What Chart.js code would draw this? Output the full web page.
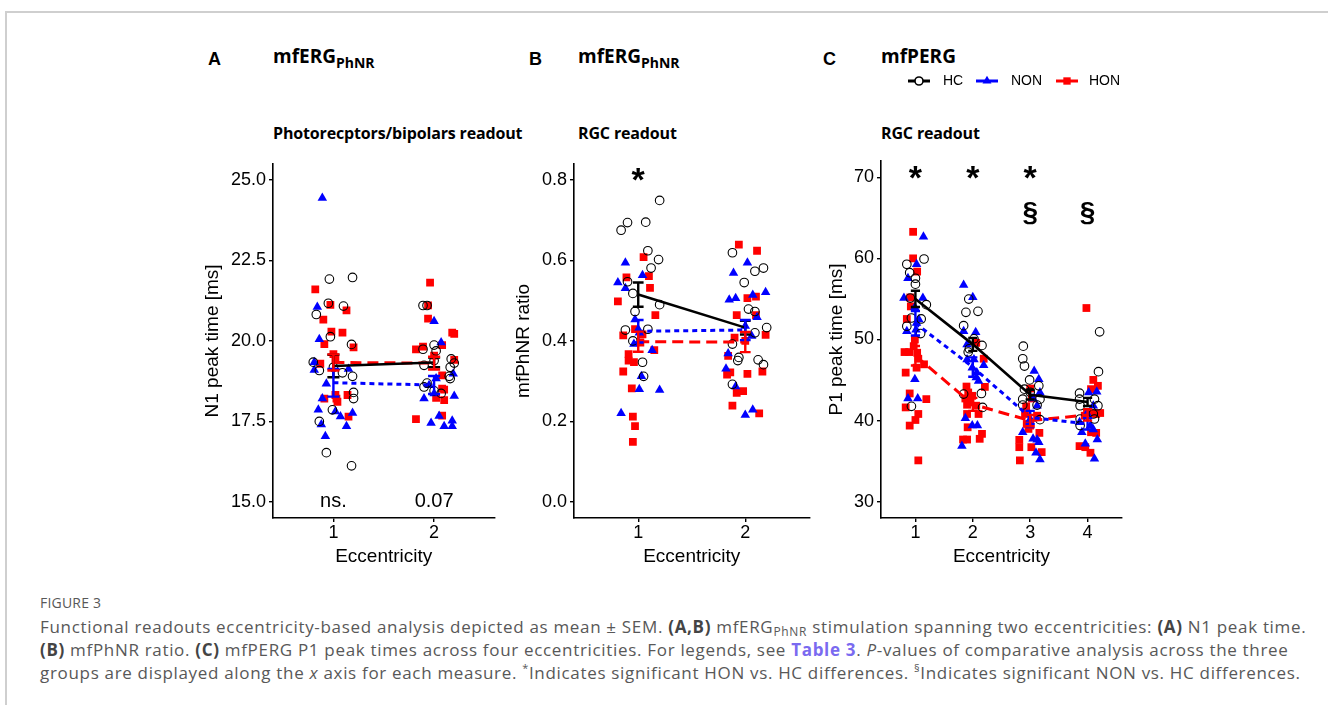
<!DOCTYPE html>
<html><head><meta charset="utf-8">
<script src="https://cdn.jsdelivr.net/npm/chart.js@4.4.1/dist/chart.umd.min.js"></script>
<style>
html,body{margin:0;padding:0;background:#fff;}
body{width:1328px;height:705px;overflow:hidden;position:relative;}
.frame{position:absolute;left:5px;top:11px;width:1400px;height:800px;border-top:2px solid #cfcfcf;border-left:2px solid #cfcfcf;}
.t{position:absolute;white-space:nowrap;line-height:1;color:#000;}
.lab{font-family:"Liberation Sans",Arial,sans-serif;font-weight:bold;font-size:18px;}
.ttl{font-family:"Open Sans",sans-serif;font-weight:700;font-size:19px;}
.ttl .sb{font-size:14px;position:relative;top:5px;}
.sub{font-family:"Open Sans",sans-serif;font-weight:700;font-size:16px;letter-spacing:-0.15px;}
canvas{position:absolute;}
.cap{position:absolute;left:40px;white-space:nowrap;font-family:"Open Sans",sans-serif;color:#585858;}
.cap b{color:#444;}
.cap .lk{color:#7a6af0;font-weight:700;}
.cap .sb{font-size:12px;position:relative;top:3px;}
.cap sup{font-size:11px;vertical-align:baseline;position:relative;top:-7px;}
.ln{font-size:17px;letter-spacing:0.68px;}
</style></head><body>
<div class="frame"></div>

<div class="t lab" style="left:208px;top:50px;">A</div>
<div class="t ttl" style="left:273px;top:47px;">mfERG<span class="sb">PhNR</span></div>
<div class="t sub" style="left:273px;top:125px;">Photorecptors/bipolars readout</div>

<div class="t lab" style="left:529px;top:50px;">B</div>
<div class="t ttl" style="left:578px;top:47px;">mfERG<span class="sb">PhNR</span></div>
<div class="t sub" style="left:578px;top:125px;">RGC readout</div>

<div class="t lab" style="left:823px;top:50px;">C</div>
<div class="t ttl" style="left:881px;top:47px;">mfPERG</div>
<div class="t sub" style="left:881px;top:125px;">RGC readout</div>

<canvas id="cA" width="310" height="430" style="left:190px;top:150px;width:310px;height:430px;"></canvas>
<canvas id="cB" width="315" height="430" style="left:500px;top:150px;width:315px;height:430px;"></canvas>
<canvas id="cC" width="320" height="520" style="left:810px;top:60px;width:320px;height:520px;"></canvas>

<div class="cap" style="top:593px;font-size:14px;letter-spacing:0.2px;">FIGURE 3</div>
<div class="cap ln" style="top:615px;">Functional readouts eccentricity-based analysis depicted as mean ± SEM. <b>(A,B)</b> mfERG<span class="sb">PhNR</span> stimulation spanning two eccentricities: <b>(A)</b> N1 peak time.</div>
<div class="cap ln" style="top:638px;"><b>(B)</b> mfPhNR ratio. <b>(C)</b> mfPERG P1 peak times across four eccentricities. For legends, see <span class="lk">Table 3</span>. <i>P</i>-values of comparative analysis across the three</div>
<div class="cap ln" style="top:661px;">groups are displayed along the <i>x</i> axis for each measure. <sup>*</sup>Indicates significant HON vs. HC differences. <sup>§</sup>Indicates significant NON vs. HC differences.</div>

<script>
// ================= DATA =================
const groups = ['HC', 'NON', 'HON'];
const eccA = [1, 2];
const eccB = [1, 2];
const eccC = [1, 2, 3, 4];
const yTicksA = [15.0, 17.5, 20.0, 22.5, 25.0];
const yTicksB = [0.0, 0.2, 0.4, 0.6, 0.8];
const yTicksC = [30, 40, 50, 60, 70];

// Panel A – N1 peak time [ms]: jittered eccentricity positions and values
const A_HC_x = [0.83,0.96,0.95,0.97,0.80,0.86,1.00,1.09,1.10,1.19,1.18,1.19,1.20,1.20,0.99,0.86,0.93,1.18, 1.89,1.93,1.89,2.00,2.02,2.00,1.90,1.93,1.90,2.07,2.15,2.16,2.17,2.20,2.16,2.00];
const A_HC_y = [20.82,21.92,21.17,20.13,19.34,19.08,19.18,19.01,21.08,21.97,19.89,18.90,18.40,18.21,17.86,17.50,16.53,16.12, 21.10,21.10,19.74,19.87,19.69,19.39,19.24,18.69,18.57,18.37,18.90,18.83,19.44,19.31,19.18,18.45];
const A_NON_x = [0.89,0.84,0.86,0.81,0.81,0.89,0.85,0.88,0.92,1.02,1.07,1.13,1.19,1.15,0.93, 2.00,2.07,2.02,1.90,1.95,2.00,1.97,2.05,2.10,2.18,2.18,2.20,2.19];
const A_NON_y = [24.44,21.05,20.05,19.34,19.10,18.21,17.86,17.40,17.04,17.81,17.65,17.35,17.76,19.13,18.67, 20.61,19.95,18.83,18.21,18.62,18.37,17.45,17.67,17.35,17.35,17.52,18.29,18.98];
const A_HON_x = [0.82,0.97,0.90,0.98,1.09,1.13,0.91,1.20,0.87,1.02,1.00,1.02,1.03,1.04,0.91,1.14,1.15, 1.96,1.94,1.94,1.82,1.89,2.08,2.18,2.20,2.20,2.00,2.08,2.08,2.10,2.02,2.10,2.08,1.82];
const A_HON_y = [21.60,21.12,20.66,20.29,20.26,20.95,19.90,19.80,19.29,19.41,19.59,18.32,18.21,18.11,18.21,18.32,17.65, 21.81,21.10,20.69,19.74,19.82,19.87,20.26,20.22,19.41,19.54,18.93,18.52,18.49,18.23,18.16,17.68,17.57];
const A_mean_HC = [19.22, 19.33];  const A_sem_HC = [0.35, 0.15];
const A_mean_NON = [18.70, 18.63]; const A_sem_NON = [0.43, 0.28];
const A_mean_HON = [19.33, 19.31]; const A_sem_HON = [0.25, 0.20];
const A_pLabels = ['ns.', '0.07'];

// Panel B – mfPhNR ratio
const B_HC_x = [0.84,0.90,1.07,1.20,1.09,1.19,1.12,0.90,0.95,0.97,1.20,0.88,1.09,0.95,1.04,1.05, 1.88,1.99,2.09,2.17,2.03,2.09,2.20,2.09,1.88,1.94,1.93,2.12,2.17,1.88];
const B_HC_y = [0.675,0.694,0.695,0.749,0.624,0.602,0.581,0.547,0.518,0.473,0.490,0.427,0.429,0.400,0.347,0.312, 0.619,0.545,0.573,0.581,0.479,0.473,0.433,0.420,0.392,0.359,0.351,0.353,0.341,0.292];
const B_NON_x = [0.88,0.81,0.88,1.04,0.97,1.00,1.01,0.96,1.13,1.03,1.01,1.20,0.84, 2.02,1.89,1.85,1.91,2.19,2.07,2.11,2.00,2.06,1.84,1.82,1.91,2.00,2.07];
const B_NON_y = [0.594,0.545,0.531,0.563,0.453,0.429,0.420,0.392,0.377,0.312,0.280,0.278,0.220, 0.594,0.569,0.502,0.506,0.521,0.514,0.459,0.437,0.412,0.369,0.331,0.287,0.216,0.229];
const B_HON_x = [0.81,0.89,1.05,1.10,1.11,1.16,0.86,0.97,1.04,1.02,0.91,0.91,0.96,0.86,0.94,0.95,0.97,0.95,1.15, 1.94,2.11,2.02,2.10,2.10,1.92,2.19,1.90,2.00,1.84,1.86,1.83,2.02,2.16,1.98,1.92,1.88,2.13];
const B_HON_y = [0.498,0.558,0.608,0.561,0.532,0.464,0.414,0.429,0.416,0.396,0.367,0.351,0.347,0.324,0.282,0.212,0.188,0.149,0.377, 0.639,0.624,0.506,0.510,0.464,0.464,0.415,0.408,0.400,0.363,0.322,0.316,0.318,0.324,0.275,0.271,0.239,0.220];
const B_mean_HC = [0.515, 0.433];  const B_sem_HC = [0.030, 0.017];
const B_mean_NON = [0.424, 0.427]; const B_sem_NON = [0.028, 0.025];
const B_mean_HON = [0.398, 0.397]; const B_sem_HON = [0.025, 0.025];
const B_sigHON = ['*', ''];

// Panel C – P1 peak time [ms]
const C_HC_x = [0.85,0.90,1.15,1.00,1.00,0.91,0.85,0.93,1.10,1.09,1.19,0.93, 1.93,1.88,2.09,1.84,2.02,1.92,1.94,2.16,2.15,2.17,1.84, 2.88,2.87,2.90,2.99,3.15,2.90,2.87,3.17,3.00,2.87,3.12,3.17, 3.86,3.86,4.12,4.18,4.19,4.21,3.87,3.87,4.10,4.12,3.87];
const C_HC_y = [59.27,58.24,59.92,57.55,56.82,55.10,51.63,52.65,52.53,50.73,54.29,41.76, 54.98,53.35,53.47,51.71,50.08,48.45,48.86,49.27,43.35,41.63,43.27, 49.18,47.63,46.73,45.02,44.29,43.88,42.65,42.65,43.50,41.92,41.92,40.12, 43.39,42.65,42.65,41.84,46.04,50.94,41.84,40.20,40.82,40.20,39.39];
const C_NON_x = [1.14,1.02,0.87,0.80,1.13,0.85,1.02,1.06,0.99,0.99,0.87,1.04,1.01, 1.84,2.00,1.84,2.05,1.90,1.90,2.02,1.99,2.06,2.07,2.19,2.10,1.87,1.99,2.08,1.81, 3.07,3.15,3.17,3.12,3.05,2.87,3.05,3.12,3.00,3.10,3.17,3.15,3.00, 4.02,4.16,4.10,3.99,3.86,4.05,4.10,4.17,3.96,4.12,3.90];
const C_NON_y = [62.65,59.27,57.55,55.10,55.10,51.02,52.04,52.45,53.96,45.10,42.73,42.73,51.20, 56.73,55.22,51.02,50.90,49.39,47.55,47.55,46.53,45.31,45.92,46.82,44.90,40.29,39.39,39.39,36.86, 46.12,45.10,43.47,41.84,42.73,38.57,37.76,37.63,39.39,36.04,35.22,37.35,40.20, 43.47,43.55,41.84,40.90,39.80,39.39,38.90,37.67,37.14,35.31,38.57];
const C_HON_x = [0.96,0.96,1.03,0.91,0.92,0.85,0.99,0.97,0.81,0.89,1.03,1.05,1.15,1.02,0.83,0.90,1.19,0.83,1.05,1.00,0.90,1.05, 1.89,1.92,1.99,1.87,1.96,1.90,2.06,2.21,2.19,2.06,1.90,1.91,2.10,2.16,1.83,1.90,2.12, 3.00,3.03,2.93,2.91,2.94,3.00,2.97,3.12,2.81,2.81,3.02,3.16,3.20,2.82, 3.98,4.10,4.18,4.06,3.99,4.08,4.15,3.95,4.22,4.06,4.15,3.86,3.96,4.05];
const C_HON_y = [63.27,60.00,58.37,55.18,54.08,52.53,50.00,49.18,48.45,48.45,48.37,47.63,46.94,46.53,45.92,43.35,42.65,41.63,40.82,40.08,39.39,35.10, 44.20,43.47,43.06,42.73,42.24,41.96,41.84,44.16,47.63,49.59,40.82,39.18,40.82,38.37,37.67,37.67,37.76, 43.96,42.73,41.76,40.82,39.59,39.39,38.98,40.61,37.63,36.73,36.73,38.49,36.12,35.10, 53.88,45.02,44.29,43.88,41.02,40.94,40.82,40.61,40.94,38.57,38.49,36.86,36.73,36.04];
const C_mean_HC = [55.0, 49.4, 43.2, 42.3];  const C_sem_HC = [1.0, 0.8, 0.6, 0.5];
const C_mean_NON = [52.0, 46.6, 40.4, 39.6]; const C_sem_NON = [1.5, 1.2, 0.8, 0.7];
const C_mean_HON = [48.0, 42.0, 40.0, 40.7]; const C_sem_HON = [1.2, 0.8, 0.7, 0.7];
const C_sigHON = ['*', '*', '*', ''];
const C_sigNON = ['', '', '§', '§'];

// ================= STYLE =================
const FONT = '"Liberation Sans", Arial, Helvetica, sans-serif';
Chart.defaults.font.family = FONT;
Chart.defaults.color = '#000';
const STY = {
  HC:  {color:'#000000', ps:'circle',   r:4.3, fill:'rgba(0,0,0,0)', bw:1.1, dash:[],     lw:2.6},
  NON: {color:'#0000ff', ps:'triangle', r:5.5, fill:'#0000ff',       bw:0,   dash:[5,4],  lw:3},
  HON: {color:'#ff0000', ps:'rect',     r:5.5, fill:'#ff0000',       bw:0,   dash:[11,6], lw:3}
};
const pts = (xs, ys) => xs.map((x, i) => ({x, y: ys[i]}));
const meanPts = (ecc, m) => ecc.map((e, i) => ({x: e, y: m[i]}));

const errorBars = {
  id: 'errorBars',
  afterDatasetsDraw(chart, args, o) {
    const {ctx, scales: {x, y}} = chart;
    ctx.save();
    groups.forEach(g => {
      const m = o.mean[g], s = o.sem[g];
      ctx.strokeStyle = STY[g].color; ctx.lineWidth = 2.4; ctx.setLineDash([]);
      o.ecc.forEach((e, i) => {
        const px = x.getPixelForValue(e), hw = x.getPixelForValue(e + o.cap) - px;
        const t = y.getPixelForValue(m[i] + s[i]), b = y.getPixelForValue(m[i] - s[i]);
        ctx.beginPath();
        ctx.moveTo(px, t); ctx.lineTo(px, b);
        ctx.moveTo(px - hw, t); ctx.lineTo(px + hw, t);
        ctx.moveTo(px - hw, b); ctx.lineTo(px + hw, b);
        ctx.stroke();
      });
    });
    ctx.restore();
  }
};
const annot = {
  id: 'annot',
  afterDraw(chart, args, o) {
    const {ctx, scales: {x, y}} = chart;
    ctx.save();
    ctx.fillStyle = '#000'; ctx.textAlign = 'center'; ctx.textBaseline = 'alphabetic';
    (o.rows || []).forEach(r => {
      ctx.font = r.font;
      r.labels.forEach((l, i) => { if (l) ctx.fillText(l, x.getPixelForValue(r.ecc[i]), y.getPixelForValue(r.y)); });
    });
    ctx.restore();
  }
};
const legendKeys = {
  id: 'legendKeys',
  afterDraw(chart, args, o) {
    if (!o.items) return;
    const ctx = chart.ctx;
    ctx.save();
    o.items.forEach(it => {
      const s = STY[it.g];
      ctx.strokeStyle = s.color; ctx.lineWidth = 3; ctx.setLineDash([]);
      ctx.beginPath(); ctx.moveTo(it.x0, o.y); ctx.lineTo(it.x0 + 22, o.y); ctx.stroke();
      ctx.fillStyle = it.g === 'HC' ? '#ffffff' : s.fill; ctx.strokeStyle = s.color; ctx.lineWidth = s.bw ? 1.6 : 0.001;
      Chart.helpers.drawPoint(ctx, {pointStyle: s.ps, radius: s.r - 0.3, borderWidth: s.bw ? 1.6 : 0}, it.x0 + 11, o.y);
      ctx.fillStyle = '#000'; ctx.font = '14px ' + FONT; ctx.textAlign = 'left'; ctx.textBaseline = 'middle';
      ctx.fillText(it.g, it.tx, o.y + 0.5);
    });
    ctx.restore();
  }
};

function makePanel(id, P) {
  const datasets = [];
  groups.forEach((g, gi) => {
    const s = STY[g];
    datasets.push({label: g + ' mean', data: meanPts(P.ecc, P.mean[g]), showLine: true,
      borderColor: s.color, borderWidth: s.lw, borderDash: s.dash, pointRadius: 0, pointHoverRadius: 0,
      fill: false, order: gi * 0.1});
  });
  groups.forEach((g, gi) => {
    const s = STY[g];
    datasets.push({label: g, data: pts(P.x[g], P.y[g]), showLine: false,
      pointStyle: s.ps, pointRadius: s.r, pointBackgroundColor: s.fill, pointBorderColor: s.color,
      pointBorderWidth: s.bw, order: 1 + gi});
  });
  const axisCommon = {
    grid: {drawOnChartArea: false, drawTicks: true, tickLength: 4, color: '#000', lineWidth: 1.4},
    border: {display: true, color: '#000', width: 1.6}
  };
  return new Chart(document.getElementById(id), {
    type: 'scatter',
    data: {datasets},
    options: {
      responsive: false, animation: false, devicePixelRatio: 1, events: [],
      layout: {padding: P.pad},
      plugins: {legend: {display: false}, tooltip: {enabled: false},
        errorBars: {ecc: P.ecc, mean: P.mean, sem: P.sem, cap: P.cap},
        annot: {rows: P.annot}, legendKeys: P.legend || {}},
      scales: {
        x: Object.assign({type: 'linear', min: 0.4, max: P.ecc.length + 0.6,
          afterBuildTicks: sc => { sc.ticks = P.ecc.map(v => ({value: v})); },
          afterFit: sc => { sc.height = 50; },
          ticks: {font: {size: 18}, color: '#000', padding: 0, maxRotation: 0, autoSkip: false, callback: v => String(v)},
          title: {display: true, text: 'Eccentricity', font: {size: 19}, color: '#000', padding: 0}}, axisCommon),
        y: Object.assign({type: 'linear', min: P.ymin, max: P.ymax,
          afterBuildTicks: sc => { sc.ticks = P.yTicks.map(v => ({value: v})); },
          afterFit: sc => { sc.width = P.yW; },
          ticks: {font: {size: 18}, color: '#000', padding: 3, autoSkip: false, callback: v => v.toFixed(P.dec)},
          title: {display: true, text: P.yTitle, font: {size: 19}, color: '#000', padding: 0}}, axisCommon)
      }
    },
    plugins: [errorBars, annot, legendKeys]
  });
}

makePanel('cA', {
  ecc: eccA, yTicks: yTicksA, ymin: 14.5, ymax: 25.5, dec: 1, yTitle: 'N1 peak time [ms]',
  pad: {left: 11, top: 11, right: 1, bottom: 12}, yW: 72, cap: 0.06,
  x: {HC: A_HC_x, NON: A_NON_x, HON: A_HON_x}, y: {HC: A_HC_y, NON: A_NON_y, HON: A_HON_y},
  mean: {HC: A_mean_HC, NON: A_mean_NON, HON: A_mean_HON}, sem: {HC: A_sem_HC, NON: A_sem_NON, HON: A_sem_HON},
  annot: [{labels: A_pLabels, ecc: eccA, y: 14.84, font: '20px ' + FONT}]
});
makePanel('cB', {
  ecc: eccB, yTicks: yTicksB, ymin: -0.04, ymax: 0.84, dec: 1, yTitle: 'mfPhNR ratio',
  pad: {left: 12, top: 11, right: 4, bottom: 12}, yW: 62, cap: 0.05,
  x: {HC: B_HC_x, NON: B_NON_x, HON: B_HON_x}, y: {HC: B_HC_y, NON: B_NON_y, HON: B_HON_y},
  mean: {HC: B_mean_HC, NON: B_mean_NON, HON: B_mean_HON}, sem: {HC: B_sem_HC, NON: B_sem_NON, HON: B_sem_HON},
  annot: [{labels: B_sigHON, ecc: eccB, y: 0.772, font: 'bold 34px ' + FONT}]
});
makePanel('cC', {
  ecc: eccC, yTicks: yTicksC, ymin: 28, ymax: 72, dec: 0, yTitle: 'P1 peak time [ms]',
  pad: {left: 15, top: 101, right: 8, bottom: 12}, yW: 56, cap: 0.08,
  x: {HC: C_HC_x, NON: C_NON_x, HON: C_HON_x}, y: {HC: C_HC_y, NON: C_NON_y, HON: C_HON_y},
  mean: {HC: C_mean_HC, NON: C_mean_NON, HON: C_mean_HON}, sem: {HC: C_sem_HC, NON: C_sem_NON, HON: C_sem_HON},
  annot: [{labels: C_sigHON, ecc: eccC, y: 68.6, font: 'bold 34px ' + FONT},
          {labels: C_sigNON, ecc: eccC, y: 64.6, font: 'bold 28px ' + FONT}],
  legend: {y: 21, items: [{g: 'HC', x0: 98, tx: 133}, {g: 'NON', x0: 166, tx: 201}, {g: 'HON', x0: 246, tx: 279}]}
});
</script>
</body></html>
